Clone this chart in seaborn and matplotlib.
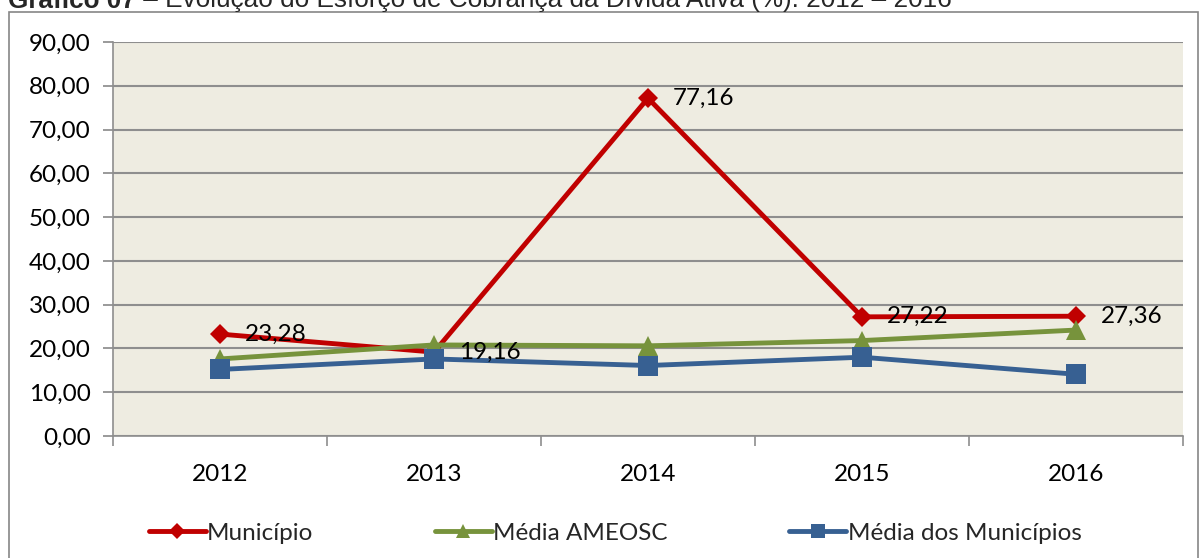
import pandas as pd
import matplotlib.pyplot as plt
import seaborn as sns
import numpy as np
from matplotlib.ticker import FuncFormatter, FixedLocator
from matplotlib.patches import Rectangle

### Dados
anos = ["2012", "2013", "2014", "2015", "2016"]
municipio = [23.28, 19.16, 77.16, 27.22, 27.36]
media_ameosc = [17.6, 20.8, 20.6, 21.8, 24.2]
media_municipios = [15.2, 17.6, 16.1, 18.0, 14.1]
series = ["Município", "Média AMEOSC", "Média dos Municípios"]
cores = ["#C00000", "#77933C", "#376092"]
marcadores = ["D", "^", "s"]
tam_marcador = [10, 14, 14]

dados = pd.DataFrame({"ano": anos * 3,
                      "serie": np.repeat(series, len(anos)),
                      "valor": municipio + media_ameosc + media_municipios})

sns.set_theme(style = "white")
plt.rcParams["font.family"] = ["Lato", "DejaVu Sans"]
fs = 17.5

W, H = 1200, 558
fig = plt.figure(figsize = (W/100, H/100), dpi = 100)
fig.patch.set_facecolor("white")

# moldura externa (cortada embaixo, como no original)
fig.add_artist(Rectangle((9/W, -0.02), 1189/W, 1 - 12/H + 0.02, transform = fig.transFigure,
                         fill = False, edgecolor = "#868686", linewidth = 1.2))

### Título (bold + normal), cortado no topo como no original
t1 = fig.text(8/W, 1 - 7.5/H, "Gráfico 07", family = "Liberation Sans", weight = "bold",
              size = 18.8, va = "baseline", ha = "left")
fig.canvas.draw()
bb = t1.get_window_extent(fig.canvas.get_renderer())
fig.text(bb.x1/W, 1 - 7.5/H, " – Evolução do Esforço de Cobrança da Dívida Ativa (%): 2012 – 2016",
         family = "Liberation Sans", size = 18.8, va = "baseline", ha = "left")

ax = fig.add_axes([113/W, 1 - 436/H, 1070/W, 394/H])
ax.set_facecolor("#EEECE1")

sns.lineplot(data = dados, x = "ano", y = "valor", hue = "serie", style = "serie",
             palette = cores, markers = marcadores, dashes = False, linewidth = 3.5,
             markersize = 12, markeredgewidth = 0, sort = False, ax = ax)
for linha, ms in zip(ax.lines, tam_marcador):
	linha.set_markersize(ms)

# rótulos do Município
for i, v in enumerate(municipio):
	ax.annotate(f"{v:.2f}".replace(".", ","), (i, v), xytext = (18, 0), textcoords = "offset points",
	            va = "center", ha = "left", size = fs, color = "black")

ax.set_xlim(-0.5, 4.5)
ax.set_ylim(0, 90)
ax.set_yticks(np.arange(0, 91, 10))
ax.yaxis.set_major_formatter(FuncFormatter(lambda y, p: f"{y:.2f}".replace(".", ",")))
ax.xaxis.set_minor_locator(FixedLocator(np.arange(-0.5, 4.6, 1)))
ax.grid(axis = "y", color = "#8E8E8E", linewidth = 1.5)
ax.set_axisbelow(True)
ax.set_xlabel("")
ax.set_ylabel("")
for s in ["top", "right"]:
	ax.spines[s].set_visible(False)
for s in ["left", "bottom"]:
	ax.spines[s].set_color("#8E8E8E")
	ax.spines[s].set_linewidth(1.2)
ax.tick_params(axis = "y", which = "major", left = True, length = 7, color = "#8E8E8E",
               labelsize = fs, labelcolor = "black", pad = 9)
ax.tick_params(axis = "x", which = "major", bottom = True, length = 0, labelsize = fs,
               labelcolor = "black", pad = 20)
ax.tick_params(axis = "x", which = "minor", bottom = True, length = 7, color = "#8E8E8E", width = 1.2)

handles, labels = ax.get_legend_handles_labels()
ax.get_legend().remove()
leg = fig.legend(handles, labels, loc = "center", bbox_to_anchor = (615/W, 1 - 533/H), ncol = 3,
                 frameon = False, fontsize = fs, handlelength = 2.35, handletextpad = 0.05,
                 columnspacing = 5.0)
for h, ms in zip(leg.legend_handles, [8, 10, 10]):
	h.set_markersize(ms)

fig.savefig("out.png", dpi = 100)
